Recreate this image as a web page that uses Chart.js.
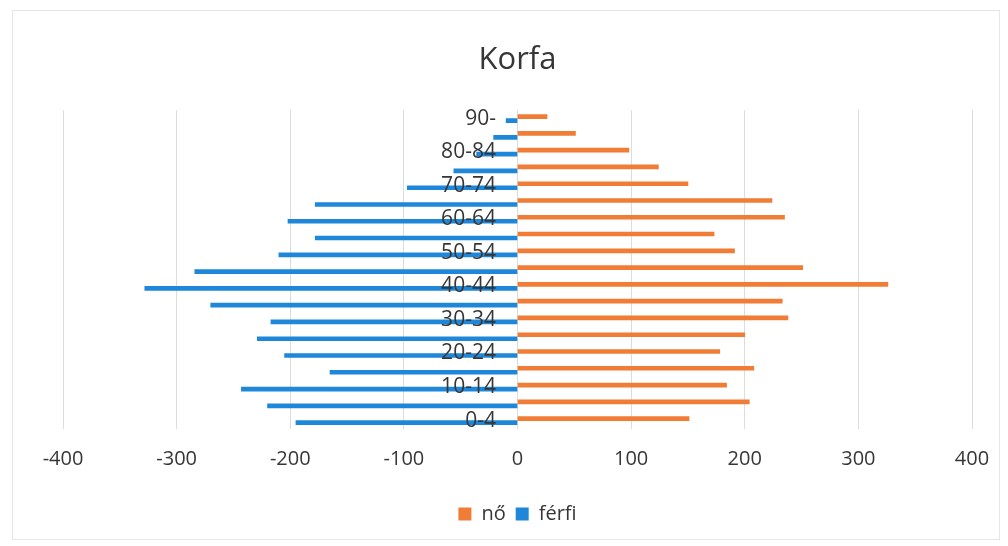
<!DOCTYPE html>
<html lang="hu">
<head>
<meta charset="utf-8">
<title>Korfa</title>
<script src="https://cdn.jsdelivr.net/npm/chart.js@4.4.1/dist/chart.umd.min.js"></script>
<style>
    html, body { margin: 0; padding: 0; background: #ffffff; }
    #wrap { position: relative; width: 1008px; height: 546px; }
    #frame {
        position: absolute; left: 12px; top: 10px; width: 986px; height: 528px;
        border: 1px solid #e6e6e6; pointer-events: none;
    }
</style>
</head>
<body>
<div id="wrap">
    <canvas id="myChart"></canvas>
    <div id="frame"></div>
</div>
<script>
// Korcsoportok (alulról felfelé)
const korcsoportok = ['0-4', '5-9', '10-14', '15-19', '20-24', '25-29', '30-34', '35-39', '40-44',
    '45-49', '50-54', '55-59', '60-64', '65-69', '70-74', '75-79', '80-84', '85-89', '90-'];

// nő: pozitív oldal
const noAdatok = [151, 204, 184, 208, 178, 200, 238, 233, 326, 251, 191, 173, 235, 224, 150, 124, 98, 51, 26];

// férfi: negatív oldal
const ferfiAdatok = [-195, -220, -243, -165, -205, -229, -217, -270, -328, -284, -210, -178, -202, -178, -97, -56, -36, -21, -10];

// x tengely
const xMin = -400;
const xMax = 400;
const xLepes = 100;

const szoveg = '#363636';
const betu = "'Open Sans', 'Noto Sans', sans-serif";

const ctx = document.getElementById('myChart').getContext('2d');
new Chart(ctx, {
    type: 'bar',
    data: {
        labels: korcsoportok,
        datasets: [
            {
                label: 'nő',
                data: noAdatok,
                backgroundColor: '#F07C36',
                borderColor: '#F07C36',
                barThickness: 4
            },
            {
                label: 'férfi',
                data: ferfiAdatok,
                backgroundColor: '#1E87DA',
                borderColor: '#1E87DA',
                barThickness: 4
            }
        ]
    },
    options: {
        indexAxis: 'y',
        responsive: true,
        maintainAspectRatio: false,
        animation: false,
        layout: {
            padding: { left: 63, right: 36, top: 0, bottom: 12 }
        },
        scales: {
            x: {
                min: xMin,
                max: xMax,
                ticks: {
                    stepSize: xLepes,
                    color: szoveg,
                    padding: 18,
                    font: { family: betu, size: 20 }
                },
                grid: {
                    color: '#dcdcdc',
                    drawTicks: false
                },
                border: { display: false },
                afterFit: function (scale) {
                    scale.height += 5;
                }
            },
            y: {
                reverse: true,
                // labels sit just left of the zero line
                position: { x: -19 },
                ticks: {
                    autoSkip: false,
                    z: 1, // labels on top of the bars
                    color: szoveg,
                    font: { family: betu, size: 21 },
                    callback: function (value, index) {
                        return index % 2 === 0 ? this.getLabelForValue(value) : '';
                    }
                },
                grid: { display: false, drawTicks: false },
                border: { display: false },
                afterFit: function (scale) {
                    scale.width = 0;
                }
            }
        },
        plugins: {
            title: {
                display: true,
                text: 'Korfa',
                color: szoveg,
                font: { family: betu, size: 31, weight: 'normal' },
                padding: { top: 42, bottom: 31 }
            },
            legend: {
                display: true,
                position: 'bottom',
                labels: {
                    color: szoveg,
                    boxWidth: 13,
                    boxHeight: 13,
                    padding: 10,
                    font: { family: betu, size: 20 }
                }
            },
            tooltip: { enabled: false }
        }
    }
});
</script>
</body>
</html>
